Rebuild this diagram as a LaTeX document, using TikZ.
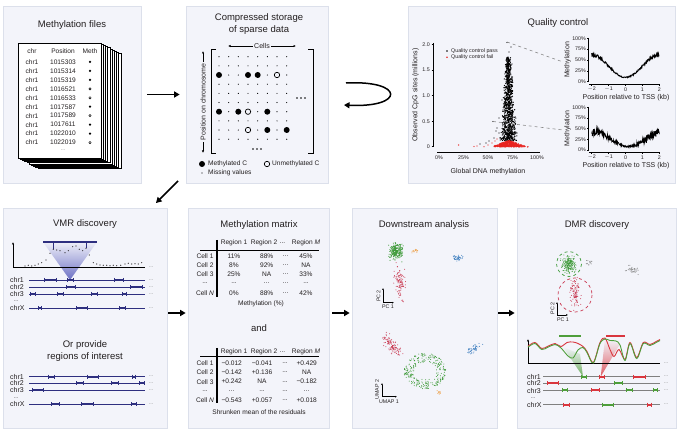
\documentclass[tikz,border=0pt]{standalone}
\usepackage{fontspec}
\setmainfont{Liberation Sans}
\usetikzlibrary{arrows.meta,calc}
\definecolor{panelbg}{HTML}{F3F4FA}
\definecolor{panelbd}{HTML}{DCE0EB}
\definecolor{navy}{HTML}{2E2F7F}
\definecolor{txt}{HTML}{231F20}
\definecolor{qcred}{HTML}{E8231F}
\definecolor{cgreen}{HTML}{3F9B3A}
\definecolor{cred}{HTML}{C9364F}
\definecolor{corange}{HTML}{EE9A3A}
\definecolor{cblue}{HTML}{3B7DBF}
\definecolor{cgray}{HTML}{8A8A8A}
\definecolor{lred}{HTML}{D9363E}
\definecolor{lgreen}{HTML}{4E9E3A}
\definecolor{fun}{HTML}{6C70C4}
\newcommand\myddd{...}
\newcommand\mycluster[8]{%
 \foreach \k in {1,...,#7}{%
  \pgfmathsetmacro\cu{#4*(rand+rand+rand)}%
  \pgfmathsetmacro\cv{#5*(rand+rand+rand)}%
  \pgfmathsetmacro\cpx{#2+\cu*cos(#6)-\cv*sin(#6)}%
  \pgfmathsetmacro\cpy{#3+\cu*sin(#6)+\cv*cos(#6)}%
  \fill[#1] (\cpx,\cpy) circle (#8);
 }}
\newcommand\chrseg[4]{%
 \draw[#4, line width=2pt] (#1,#3) -- (#2,#3);
 \draw[#4, line width=0.6pt] (#1,#3-2) -- (#1,#3+2) (#2,#3-2) -- (#2,#3+2);}
\begin{document}
\begin{tikzpicture}[x=1pt,y=-1pt,
  panel/.style={draw=panelbd, fill=panelbg, line width=0.7pt, rectangle, inner sep=0pt},
  ttl/.style={font=\fontsize{9.5}{12}\selectfont, align=center, inner sep=0pt, text=txt},
  sm/.style={font=\fontsize{6.6}{7.5}\selectfont, inner sep=0pt, text=txt},
  lab/.style={font=\fontsize{7}{8}\selectfont, inner sep=0pt, text=txt},
  tiny/.style={font=\fontsize{5.3}{6}\selectfont, inner sep=0pt, text=txt},
  arr/.style={-{Triangle[length=5.5pt,width=6pt]}, line width=1.5pt, black},
  ax/.style={line width=0.5pt, black},
  chrline/.style={navy, line width=0.6pt},
  chrgray/.style={gray, line width=0.8pt}]
\useasboundingbox (0,0) rectangle (680,435);
\fill[white] (0,0) rectangle (680,435);
\pgfmathsetseed{7}

% ---------------- panels
\node[panel, minimum width=138pt, minimum height=177pt] (p1) at (72,94.5) {};
\node[panel, minimum width=142pt, minimum height=177pt] (p2) at (257,94.5) {};
\node[panel, minimum width=267pt, minimum height=177pt] (p3) at (541.5,94.5) {};
\node[panel, minimum width=164pt, minimum height=220pt] (p4) at (85,318) {};
\node[panel, minimum width=141pt, minimum height=220pt] (p5) at (258.5,318) {};
\node[panel, minimum width=145pt, minimum height=220pt] (p6) at (424.5,318) {};
\node[panel, minimum width=159pt, minimum height=220pt] (p7) at (596.5,318) {};

% ---------------- arrows between panels
\draw[arr] ([xshift=6pt]p1.east) -- ([xshift=-6pt]p2.west);
\coordinate (ca) at (346,83);
\coordinate (cb) at (344,105);
\draw[arr] (ca) .. controls (405,80) and (405,108) .. (cb);
\coordinate (da) at (178,181);
\coordinate (db) at (156,203);
\draw[arr] (da) -- (db);
\draw[arr] ([xshift=1pt,yshift=5pt]p4.east) -- ([xshift=-2pt,yshift=5pt]p5.west);
\draw[arr] ([xshift=3pt,yshift=5pt]p5.east) -- ([xshift=-2pt,yshift=5pt]p6.west);
\draw[arr] ([xshift=1pt,yshift=5pt]p6.east) -- ([xshift=-2pt,yshift=5pt]p7.west);

% ---------------- panel 1: methylation files
\node[ttl] (t1) at (72,25) {Methylation files};
\foreach \k in {9,8,...,1}
  \draw[fill=white, line width=0.6pt] ({18+2.2*\k},{43+1.2*\k}) rectangle ({101+2.2*\k},{158+1.2*\k});
\node[draw, fill=white, line width=0.8pt, minimum width=83pt, minimum height=115pt, inner sep=0pt] (page) at (59.5,100.5) {};
\node[sm] (h1) at (32,51) {chr};
\node[sm] (h2) at (63,51) {Position};
\node[sm] (h3) at (90,51) {Meth};
\foreach \p/\m [count=\i from 0] in {1015303/1,1015314/1,1015319/1,1016521/0,1016533/0,1017587/1,1017589/0,1017611/1,1022010/1,1022019/0}{
  \node[sm] (fc\i) at (32,{62+8.95*\i}) {chr1};
  \node[sm] (fp\i) at (63,{62+8.95*\i}) {\p};
  \ifnum\m=1 \fill (90,{62+8.95*\i}) circle (1.25);
  \else \draw[line width=0.45pt] (90,{62+8.95*\i}) circle (1.15); \fi
}
\node[tiny, text=gray] (fdots) at (63,150) {\myddd};

% ---------------- panel 2: compressed storage
\node[ttl] (t2) at (259,24) {Compressed storage\\of sparse data};
\draw[{Latex[length=2.5pt,width=2.2pt]}-{Latex[length=2.5pt,width=2.2pt]}, line width=0.5pt] (228,46) -- (296,46)
  node[midway, fill=panelbg, lab, inner xsep=1.5pt] (cells) {Cells};
\draw[{Latex[length=2.5pt,width=2.2pt]}-{Latex[length=2.5pt,width=2.2pt]}, line width=0.5pt] (203,153) -- (203,51)
  node[midway, rotate=90, fill=panelbg, lab, inner xsep=1.5pt] (poslab) {Position on chromosome};
\draw[line width=1pt] (216,50) -- (211,50) -- (211,154) -- (216,154);
\draw[line width=1pt] (308,50) -- (313,50) -- (313,154) -- (308,154);
\foreach \i in {0,...,9} \foreach \j in {0,...,7}
  \fill ({219+9.67*\j},{56.7+9.17*\i}) circle (0.6);
\foreach \cx/\cy in {219/75,248/75,257.7/75,219/111.7,238.3/111.7,267.3/111.7,267.3/130,286.7/130}
  \fill (\cx,\cy) circle (3);
\foreach \cx/\cy in {277/75,248/111.7,248/130}
  \draw[fill=panelbg, line width=0.7pt] (\cx,\cy) circle (2.7);
\foreach \cx in {297,301,305} \fill (\cx,98) circle (0.9);
\foreach \cx in {253,257,261} \fill (\cx,149) circle (0.9);
\fill (202,164) circle (3);
\node[sm, anchor=west] (lg1) at (208,164) {Methylated C};
\draw[line width=0.7pt] (267,164) circle (2.7);
\node[sm, anchor=west] (lg2) at (272,164) {Unmethylated C};
\fill (202,173) circle (0.7);
\node[sm, anchor=west] (lg3) at (208,173) {Missing values};

% ---------------- panel 3: quality control
\node[ttl] (t3) at (558,23) {Quality control};
\draw[ax] (433.5,43) -- (433.5,147.5);
\foreach \v/\yy in {2.0/44.3,1.5/70,1.0/95.5,0.5/121.2,0/146.7}{
  \draw[ax] (431.5,\yy) -- (433.5,\yy);
  \node[tiny, anchor=east] at (430,\yy) {\v};}
\draw[ax] (437,152) -- (540,152);
\foreach \v/\xx in {0\%/439,25\%/463.5,50\%/488,75\%/512.5,100\%/537}{
  \draw[ax] (\xx,152) -- (\xx,153.5);
  \node[tiny] at (\xx,158) {\v};}
\node[lab, rotate=90] (qy) at (415.5,95) {Observed CpG sites (millions)};
\node[lab] (qx) at (488,172) {Global DNA methylation};
\fill (447,51) circle (0.9);
\node[tiny, anchor=west] (ql1) at (451,51) {Quality control pass};
\fill[qcred] (447,57.3) circle (0.9);
\node[tiny, anchor=west] (ql2) at (451,57.3) {Quality control fail};
\foreach \k in {1,...,950}{
  \pgfmathsetmacro\cv{0.12+1.62*rnd^1.3}
  \pgfmathsetmacro\cu{(10-4.2*\cv)*(rand+rand)/2}
  \fill ({508.5+\cu},{146.7-51.2*\cv}) circle (0.65);}
\foreach \cx/\cy in {507/42.5,511/47,509/52,508/57,510/61,512/64,507/66,493/121.5,497/128,499/133,494/138,500/138,489/141,486/143,480/144,503/110,502/100,499/118,496/131}
  \fill (\cx,\cy) circle (0.65);
\foreach \k in {1,...,420}{
  \pgfmathsetmacro\cu{15*(rand+rand+rand)/2.2}
  \pgfmathsetmacro\cv{6.5*rnd*(1-abs(\cu)/18)}
  \fill[qcred] ({509+\cu},{146.9-\cv}) circle (0.65);}
\foreach \cx/\cy in {458.6/145,474/146.5,477/146,484/146.7,488/145,492/143,495/141,497/139,525/146.5,528/146.8}
  \fill[qcred] (\cx,\cy) circle (0.65);
\draw[cgray, dashed, line width=0.6pt] (507,42) -- (563,62);
\draw[cgray, dashed, line width=0.6pt] (493,121.5) -- (563,130);
% top mini plot
\draw[ax] (588.5,38) -- (588.5,82);
\draw[ax] (589,84.3) -- (660,84.3);
\foreach \v/\yy in {100\%/38.3,75\%/49.1,50\%/60,25\%/70.8,0\%/81.7}{
  \draw[ax] (587,\yy) -- (588.5,\yy);
  \node[tiny, anchor=east] at (586,\yy) {\v};}
\foreach \v/\xx in {$-$2/591.7,$-$1/608.6,0/625.5,1/642.4,2/659.3}{
  \draw[ax] (\xx,84.3) -- (\xx,85.8);
  \node[tiny] at (\xx,89.5) {\v};}
\node[lab] (mx1) at (626,98) {Position relative to TSS (kb)};
\node[lab, rotate=90] (my1) at (567.5,60) {Methylation};
\draw[line width=1pt] plot[domain=-2:2, samples=160, variable=\q]
  ({625.5+16.9*\q}, {81.7-0.434*(10+26*(1-cos(90*\q))+(1+1.5*abs(\q))*rand)});
% bottom mini plot
\draw[ax] (588.5,107) -- (588.5,150.3);
\draw[ax] (589,152.5) -- (660,152.5);
\foreach \v/\yy in {100\%/107.3,75\%/118,50\%/128.6,25\%/139.3,0\%/150}{
  \draw[ax] (587,\yy) -- (588.5,\yy);
  \node[tiny, anchor=east] at (586,\yy) {\v};}
\foreach \v/\xx in {$-$2/591.7,$-$1/608.6,0/625.5,1/642.4,2/659.3}{
  \draw[ax] (\xx,152.5) -- (\xx,154);
  \node[tiny] at (\xx,157.5) {\v};}
\node[lab] (mx2) at (626,166) {Position relative to TSS (kb)};
\node[lab, rotate=90] (my2) at (567.5,128.6) {Methylation};
\draw[line width=0.8pt] plot[domain=-2:2, samples=220, variable=\q]
  ({625.5+16.9*\q}, {150-0.427*(8+17*(1-cos(90*(\q-0.15)))+(1.5+4*abs(\q))*rand)});

% ---------------- panel 4: VMR discovery
\node[ttl] (t4) at (85,224) {VMR discovery};
\shade[top color=panelbg!60!fun!25, bottom color=fun] (43,242) -- (97,242) -- (70,280) -- cycle;
\draw[ax, -{Latex[length=2.5pt,width=2.2pt]}] (13,267) -- (13,242);
\draw[ax] (13,267) -- (145,267);
\node[tiny, text=gray] at (151,267) {\myddd};
\draw[navy, line width=1.6pt] (43,242) -- (97,242);
\draw[navy, line width=0.4pt] (53.3,242) -- (53.3,249) (86,242) -- (86,248);
\foreach \cx/\cy in {25/266,28.3/265.3,31.7/266,35/265.3,38.3/264,41.7/262.7,46/260,50/253.3,53.3/249.3,56.7/250,60/250.7,65/252.7,68.3/250.7,72.7/246.7,76/246,79.3/249.3,82.7/250.7,86/248.3,89.3/255,93.3/262.7,96.7/264,100/265,103.3/265.3,106.7/265.3,110/265.7,113.3/265.3,116.7/265.7,120.7/265.3,125/264,128.3/263.3,131.7/264,135/263.7,138.3/264,141.7/262.7}
  \fill[txt] (\cx,\cy) circle (0.6);
\foreach \n/\yy in {chr1/280,chr2/287.3,chr3/294,chrX/308.3}{
  \node[lab, anchor=west] at (10,\yy) {\n};
  \draw[chrline] (29,\yy) -- (145,\yy);
  \node[tiny, text=gray] at (151,\yy) {\myddd};}
\node[tiny] at (16,301.5) {\myddd};
\chrseg{44}{56}{280}{navy}\chrseg{67}{73}{280}{navy}\chrseg{114}{123}{280}{navy}
\chrseg{66}{75}{287.3}{navy}\chrseg{130}{142}{287.3}{navy}
\chrseg{30}{35}{294}{navy}\chrseg{57}{63}{294}{navy}\chrseg{91}{97}{294}{navy}\chrseg{122}{126}{294}{navy}
\chrseg{38}{41}{308.3}{navy}\chrseg{76}{87}{308.3}{navy}\chrseg{119}{125}{308.3}{navy}
\node[ttl] (t4b) at (85,351.5) {Or provide\\regions of interest};
\foreach \n/\yy in {chr1/376.7,chr2/383.3,chr3/390.3,chrX/404.3}{
  \node[lab, anchor=west] at (10,\yy) {\n};
  \draw[chrline] (29,\yy) -- (145,\yy);
  \node[tiny, text=gray] at (151,\yy) {\myddd};}
\node[tiny] at (16,398) {\myddd};
\chrseg{48}{54}{376.7}{navy}\chrseg{87}{98}{376.7}{navy}\chrseg{132}{135}{376.7}{navy}
\chrseg{76}{83}{383.3}{navy}\chrseg{111}{118}{383.3}{navy}\chrseg{139}{144}{383.3}{navy}
\chrseg{32}{43}{390.3}{navy}
\chrseg{51}{59}{404.3}{navy}\chrseg{81}{93}{404.3}{navy}\chrseg{131}{136}{404.3}{navy}

% ---------------- panel 5: methylation matrix
\node[ttl] (t5) at (259,225) {Methylation matrix};
\draw[line width=1.2pt] (217,240) -- (217,297);
\draw[line width=0.8pt] (200,250) -- (319,250);
\node[sm] at (234,242.7) {Region 1};
\node[sm] at (264,242.7) {Region 2};
\node[sm] at (282.5,242.7) {\myddd};
\node[sm] at (306,242.7) {Region \textit{M}};
\foreach \c/\a/\b/\d [count=\i from 0] in {Cell 1/11\%/88\%/45\%,Cell 2/8\%/92\%/NA,Cell 3/25\%/NA/33\%,\myddd/\myddd/\myddd/\myddd,Cell \textit{N}/0\%/88\%/42\%}{
  \node[sm] at (205,{256+9.2*\i}) {\c};
  \node[sm] at (234,{256+9.2*\i}) {\a};
  \node[sm] at (266.7,{256+9.2*\i}) {\b};
  \node[sm] at (285.7,{256+9.2*\i}) {\myddd};
  \node[sm] at (306,{256+9.2*\i}) {\d};}
\node[sm] (cap1) at (261,303.3) {Methylation (\%)};
\node[ttl] (and) at (259,328) {and};
\draw[line width=1.2pt] (217,348) -- (217,403);
\draw[line width=0.8pt] (200,356.7) -- (319,356.7);
\node[sm] at (234,351.7) {Region 1};
\node[sm] at (264,351.7) {Region 2};
\node[sm] at (282.5,351.7) {\myddd};
\node[sm] at (306,351.7) {Region \textit{M}};
\foreach \c/\a/\b/\d [count=\i from 0] in {Cell 1/−0.012/−0.041/+0.429,Cell 2/−0.142/+0.136/NA,Cell 3/+0.242/NA/−0.182,\myddd/\myddd/\myddd/\myddd,Cell \textit{N}/−0.543/+0.057/+0.018}{
  \node[sm] at (205,{363.3+9.2*\i}) {\c};
  \node[sm] at (231.7,{363.3+9.2*\i}) {\a};
  \node[sm] at (262,{363.3+9.2*\i}) {\b};
  \node[sm] at (285,{363.3+9.2*\i}) {\myddd};
  \node[sm] at (306.7,{363.3+9.2*\i}) {\d};}
\node[sm] (cap2) at (259,411.7) {Shrunken mean of the residuals};

% ---------------- panel 6: downstream analysis
\node[ttl] (t6) at (424,225) {Downstream analysis};
\mycluster{cgreen}{396}{251.5}{3.4}{4}{0}{230}{0.55}
\mycluster{corange}{415}{251}{1.5}{1.1}{0}{14}{0.5}
\mycluster{cblue}{457}{258}{2.8}{1.4}{0}{40}{0.5}
\mycluster{cred}{400}{282}{2.4}{7.5}{-5}{100}{0.5}
\draw[ax, -{Latex[length=2pt,width=1.8pt]}] (383,302.7) -- (383,288);
\draw[ax, -{Latex[length=2pt,width=1.8pt]}] (383,302.7) -- (394,302.7);
\node[tiny, rotate=90] at (378.5,296) {PC 2};
\node[tiny] at (388,307) {PC 1};
\mycluster{cred}{392}{345}{6}{2.6}{48}{110}{0.5}
\foreach \k in {1,...,280}{
  \pgfmathsetmacro\angl{360*rnd}
  \pgfmathsetmacro\rr{0.5+0.55*rnd^0.6}
  \fill[cgreen] ({425+20*\rr*cos(\angl)},{371+17*\rr*sin(\angl)}) circle (0.5);}
\mycluster{corange}{439}{392}{1.2}{1.0}{0}{10}{0.5}
\mycluster{cblue}{473}{349}{4}{1.5}{-28}{45}{0.5}
\draw[ax, -{Latex[length=2pt,width=1.8pt]}] (382,396.7) -- (382,383);
\draw[ax, -{Latex[length=2pt,width=1.8pt]}] (382,396.7) -- (397,396.7);
\node[tiny, rotate=90] at (377,389.5) {UMAP 2};
\node[tiny] at (389,401.5) {UMAP 1};

% ---------------- panel 7: DMR discovery
\node[ttl] (t7) at (597,225) {DMR discovery};
\mycluster{cgreen}{569}{264}{3.2}{4}{0}{200}{0.5}
\mycluster{cred}{575}{293}{2.4}{7.5}{0}{100}{0.5}
\mycluster{cgray}{589}{263}{2}{1.6}{0}{15}{0.5}
\mycluster{cgray}{632}{270}{2.8}{1.8}{0}{40}{0.5}
\draw[cgreen, dashed, line width=0.7pt] (569,264) circle (12.5);
\draw[cred, dashed, line width=0.7pt] (575,295) circle (17);
\draw[ax, -{Latex[length=2pt,width=1.8pt]}] (557,315) -- (557,302);
\draw[ax, -{Latex[length=2pt,width=1.8pt]}] (557,315) -- (568,315);
\node[tiny, rotate=90] at (552.5,308.5) {PC 2};
\node[tiny] at (563,319.5) {PC 1};
\draw[lgreen, line width=2pt] (559,335.7) -- (581,335.7);
\draw[lred, line width=2pt] (606,335.7) -- (625,335.7);
\shade[top color=panelbg, bottom color=lgreen, opacity=0.8] (563,347) -- (580,354) -- (583,376.7) -- cycle;
\shade[top color=panelbg, bottom color=lred, opacity=0.8] (605,339) -- (620,344) -- (600.7,376.7) -- cycle;
\draw[ax, -{Latex[length=2.5pt,width=2.2pt]}] (528,363) -- (528,339);
\draw[ax] (528,363) -- (660,363);
\node[tiny, text=gray] at (666,363) {\myddd};
\draw[lred, line width=0.9pt] plot[smooth, tension=0.55] coordinates {(528,346.2) (535,342.5) (541.7,348.5) (548,346.2) (555,343.5) (561,346.5) (567,342.5) (573,342) (578,343.5) (583,346.5) (587,351.5) (593.3,362.5) (600,342.5) (605,338) (610,349.5) (614,356.5) (619,349.5) (625,359.5) (630,342.5) (636.7,357.5) (643.3,342.5) (650,344.5) (656.7,341.2) (660,339.5)};
\draw[lgreen, line width=0.9pt] plot[smooth, tension=0.55] coordinates {(528,347.2) (535,343.5) (541.7,349.5) (548,347.2) (555,344.5) (561,348) (568,356) (573,358) (578,350) (583,347.5) (587,352.5) (593.3,363) (600,343.5) (605,339) (610,340.5) (616,341) (620,345) (625,360.5) (630,343.5) (636.7,358.5) (643.3,343.5) (650,345.5) (656.7,342.2) (660,340.5)};
\foreach \n/\yy in {chr1/376.7,chr2/383.3,chr3/390.5,chrX/404.7}{
  \node[lab, anchor=west] at (527,\yy) {\n};
  \draw[chrgray] (543,\yy) -- (660,\yy);
  \node[tiny, text=gray] at (666,\yy) {\myddd};}
\node[tiny] at (533,398.3) {\myddd};
\chrseg{581}{586}{376.7}{lgreen}\chrseg{599}{604}{376.7}{lred}\chrseg{633}{645}{376.7}{lred}
\chrseg{547}{558}{383.3}{lred}\chrseg{614}{622}{383.3}{lgreen}
\chrseg{562}{567}{390.5}{lgreen}\chrseg{591}{599}{390.5}{lred}\chrseg{626}{632}{390.5}{lgreen}\chrseg{653}{657}{390.5}{lgreen}
\chrseg{563}{569}{404.7}{lred}\chrseg{602}{613}{404.7}{lgreen}\chrseg{647}{651}{404.7}{lred}
\end{tikzpicture}
\end{document}
